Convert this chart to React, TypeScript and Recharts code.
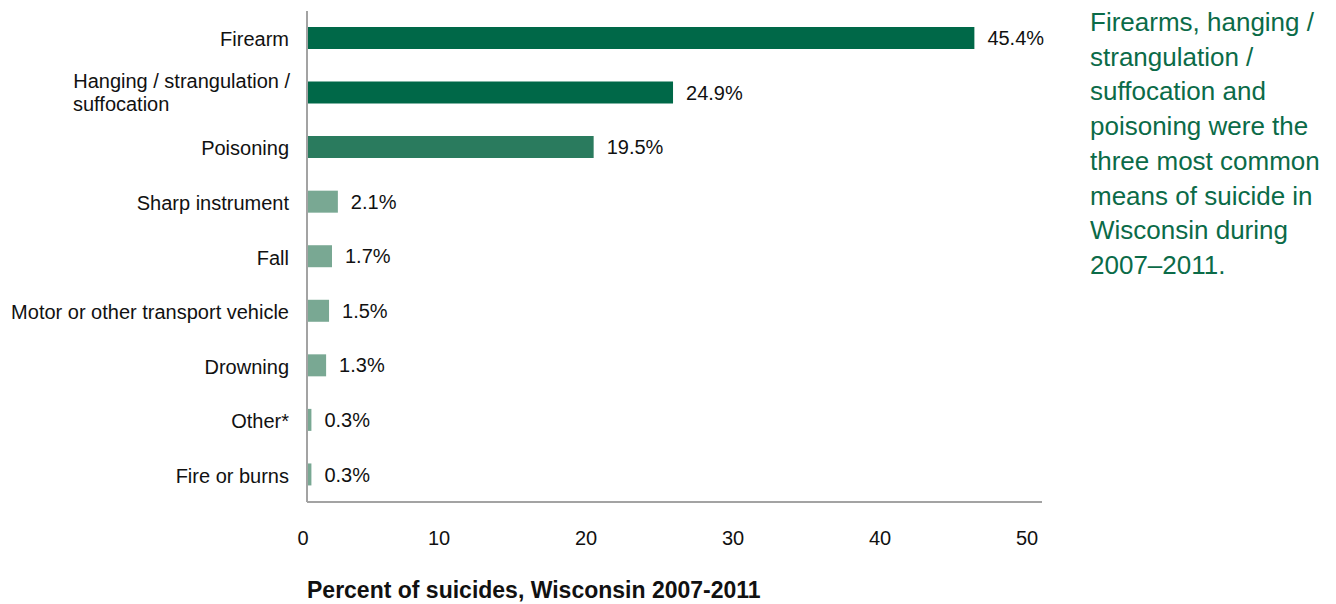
import { Bar, BarChart, Cell, LabelList, XAxis, YAxis } from 'recharts';

const categories = [
  'Firearm',
  'Hanging / strangulation /\nsuffocation',
  'Poisoning',
  'Sharp instrument',
  'Fall',
  'Motor or other transport vehicle',
  'Drowning',
  'Other*',
  'Fire or burns',
];
const percents = [45.4, 24.9, 19.5, 2.1, 1.7, 1.5, 1.3, 0.3, 0.3];
const xTicks = [0, 10, 20, 30, 40, 50];

const FONT = '"Liberation Sans", Arial, sans-serif';
const DARK = '#006848';
const MID = '#2a7b5e';
const LIGHT = '#79a893';
const AXIS = '#a3a3a3';

const data = categories.map((name, i) => ({ name, value: percents[i] }));

const barColor = (i: number) => (i < 2 ? DARK : i === 2 ? MID : LIGHT);

const CategoryTick = ({ x, y, payload }: any) => {
  const lines = String(payload.value).split('\n');
  if (lines.length > 1) {
    return (
      <g>
        <text x={x - 17} y={y - 12} textAnchor="end" dominantBaseline="central" fontSize={20} fill="#111" fontFamily={FONT}>
          {lines[0]}
        </text>
        <text x={x - 234} y={y + 11} textAnchor="start" dominantBaseline="central" fontSize={20} fill="#111" fontFamily={FONT}>
          {lines[1]}
        </text>
      </g>
    );
  }
  return (
    <text x={x - 18} y={y + 1} textAnchor="end" dominantBaseline="central" fontSize={20} fill="#111" fontFamily={FONT}>
      {lines[0]}
    </text>
  );
};

const ValueTick = ({ x, y, payload }: any) => (
  <text
    x={x + (payload.value === 0 ? -4 : -15)}
    y={y + 36}
    textAnchor="middle"
    dominantBaseline="central"
    fontSize={20}
    fill="#111"
    fontFamily={FONT}
  >
    {payload.value}
  </text>
);

export default function App() {
  return (
    <div style={{ position: 'absolute', left: 0, top: 0, width: 1336, height: 604, background: '#fff' }}>
      <BarChart
        width={1336}
        height={604}
        data={data}
        layout="vertical"
        margin={{ top: 11, right: 294, bottom: 0, left: 0 }}
        barCategoryGap="30%"
      >
        <XAxis
          type="number"
          domain={[0, 50]}
          ticks={xTicks}
          height={102}
          tickLine={false}
          axisLine={{ stroke: AXIS, strokeWidth: 2 }}
          tick={<ValueTick />}
          tickSize={0}
          tickMargin={0}
        />
        <YAxis
          type="category"
          dataKey="name"
          width={307}
          tickLine={false}
          axisLine={{ stroke: AXIS, strokeWidth: 2 }}
          tick={<CategoryTick />}
          tickSize={0}
          tickMargin={0}
          interval={0}
        />
        <Bar dataKey="value" barSize={22} isAnimationActive={false}>
          {data.map((d, i) => (
            <Cell key={d.name} fill={barColor(i)} />
          ))}
          <LabelList
            dataKey="value"
            position="right"
            offset={13}
            formatter={(v: any) => `${v}%`}
            style={{ fontSize: 20, fill: '#111', fontFamily: FONT }}
          />
        </Bar>
      </BarChart>
      <div
        style={{
          position: 'absolute',
          left: 307,
          top: 576,
          fontFamily: FONT,
          fontWeight: 'bold',
          fontSize: 23,
          lineHeight: '28px',
          color: '#111',
          whiteSpace: 'nowrap',
        }}
      >
        Percent of suicides, Wisconsin 2007-2011
      </div>
      <div
        style={{
          position: 'absolute',
          left: 1090,
          top: 5,
          width: 246,
          fontFamily: FONT,
          fontSize: 26,
          lineHeight: '34.7px',
          color: '#0b6b48',
        }}
      >
        Firearms, hanging / strangulation / suffocation and poisoning were the three most common means of suicide in Wisconsin during 2007–2011.
      </div>
    </div>
  );
}
